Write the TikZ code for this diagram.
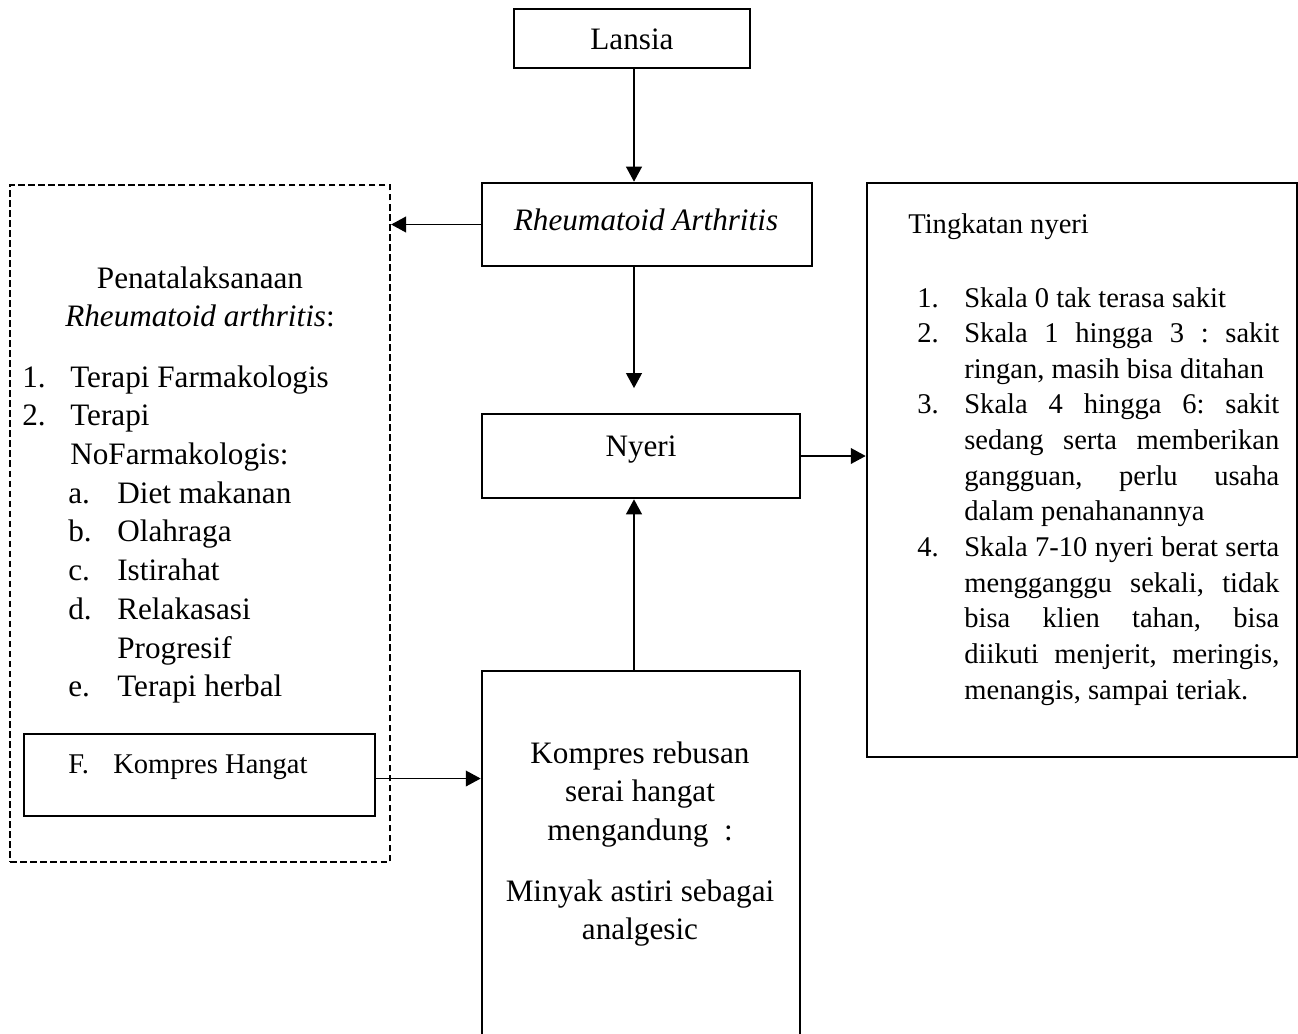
\documentclass[tikz,border=0pt]{standalone}
\usepackage{fontspec}
\setmainfont{Liberation Serif}
\usetikzlibrary{arrows.meta,calc}
\frenchspacing
\newlength{\px}
\setlength{\px}{0.02cm}
\newcommand{\mainsize}{\fontsize{17.75pt}{22.05pt}\selectfont}
\newcommand{\listsize}{\fontsize{16.25pt}{20.3pt}\selectfont}
\newcommand{\numbox}[1]{\makebox[47\px][l]{#1}}
\newcommand{\jline}[1]{\hspace{47\px}\makebox[315\px][s]{#1}}

\begin{document}
\begin{tikzpicture}[x=0.02cm,y=-0.02cm,
  box/.style={draw,line width=1.5pt,inner sep=0pt},
  dashbox/.style={draw,line width=1.3pt,dash pattern=on 3.8pt off 1.9pt,inner sep=0pt},
  arr/.style={line width=0.75pt,-{Triangle[length=8.5pt,width=9pt]}},
  txt/.style={inner sep=0pt,font=\mainsize}]
\useasboundingbox (0,0) rectangle (1298,1034);
\clip (0,0) rectangle (1298,1034);
\coordinate (axis) at (634,0);

\node[box,minimum width=236\px,minimum height=59\px] (lansia) at (632,38.5) {};
\node[box,minimum width=330\px,minimum height=83\px] (ra) at (647,224.5) {};
\node[box,minimum width=318\px,minimum height=84\px] (nyeri) at (641,456) {};
\node[box,minimum width=318\px,minimum height=369\px] (kompres) at (641,855.5) {};
\node[box,minimum width=430\px,minimum height=574\px] (tingkat) at (1082,470) {};
\node[dashbox,minimum width=380\px,minimum height=677\px] (penata) at (200,523.5) {};
\node[box,minimum width=351\px,minimum height=82\px] (hangat) at (199.5,775) {};

\node[txt,anchor=base] (tlansia) at (632,50) {Lansia};
\node[txt,anchor=base] (tra) at (646,230) {\itshape Rheumatoid Arthritis};
\node[txt,anchor=base] (tnyeri) at (641,456) {Nyeri};
\node[txt,anchor=base] (tkompres) at (640,763) {\begin{tabular}[t]{@{}c@{}}
Kompres rebusan\\
serai hangat\\
mengandung~~:\\[22\px]
Minyak astiri sebagai\\
analgesic
\end{tabular}};
\node[txt,anchor=base] (tpenata) at (200,288) {\begin{tabular}[t]{@{}c@{}}
Penatalaksanaan\\
\textit{Rheumatoid arthritis}:
\end{tabular}};
\node[txt,anchor=base west] (tterapi) at (22,387) {\begin{tabular}[t]{@{}l@{}}
\makebox[48\px][l]{1.}Terapi Farmakologis\\
\makebox[48\px][l]{2.}Terapi\\
\hspace{48\px}NoFarmakologis:\\
\hspace{46\px}\makebox[49\px][l]{a.}Diet makanan\\
\hspace{46\px}\makebox[49\px][l]{b.}Olahraga\\
\hspace{46\px}\makebox[49\px][l]{c.}Istirahat\\
\hspace{46\px}\makebox[49\px][l]{d.}Relakasasi\\
\hspace{95\px}Progresif\\
\hspace{46\px}\makebox[49\px][l]{e.}Terapi herbal
\end{tabular}};
\node[txt,font=\listsize,anchor=base west] (thangat) at (68,773) {\makebox[45\px][l]{F.}Kompres Hangat};
\node[txt,font=\listsize,anchor=base west] (ttitle) at (908,233) {Tingkatan nyeri};
\node[txt,font=\listsize,anchor=base west] (tskala) at (917,307) {\begin{tabular}[t]{@{}l@{}}
\numbox{1.}Skala 0 tak terasa sakit\\
\numbox{2.}\makebox[315\px][s]{Skala 1 hingga 3 : sakit}\\
\hspace{47\px}ringan, masih bisa ditahan\\
\numbox{3.}\makebox[315\px][s]{Skala 4 hingga 6: sakit}\\
\jline{sedang serta memberikan}\\
\jline{gangguan, perlu usaha}\\
\hspace{47\px}dalam penahanannya\\
\numbox{4.}\makebox[315\px][s]{Skala 7-10 nyeri berat serta}\\
\jline{mengganggu sekali, tidak}\\
\jline{bisa klien tahan, bisa}\\
\jline{diikuti menjerit, meringis,}\\
\hspace{47\px}menangis, sampai teriak.
\end{tabular}};

\draw[arr] (lansia.south -| axis) -- (ra.north -| axis);
\draw[arr] (ra.west) -- (ra.west -| penata.east);
\draw[arr,shorten >=14pt] (ra.south -| axis) -- (nyeri.north -| axis);
\draw[arr] (kompres.north -| axis) -- (nyeri.south -| axis);
\draw[arr] (nyeri.east) -- (nyeri.east -| tingkat.west);
\draw[arr] ([yshift=-2pt]hangat.east) -- ([yshift=-2pt]hangat.east -| kompres.west);
\end{tikzpicture}
\end{document}
